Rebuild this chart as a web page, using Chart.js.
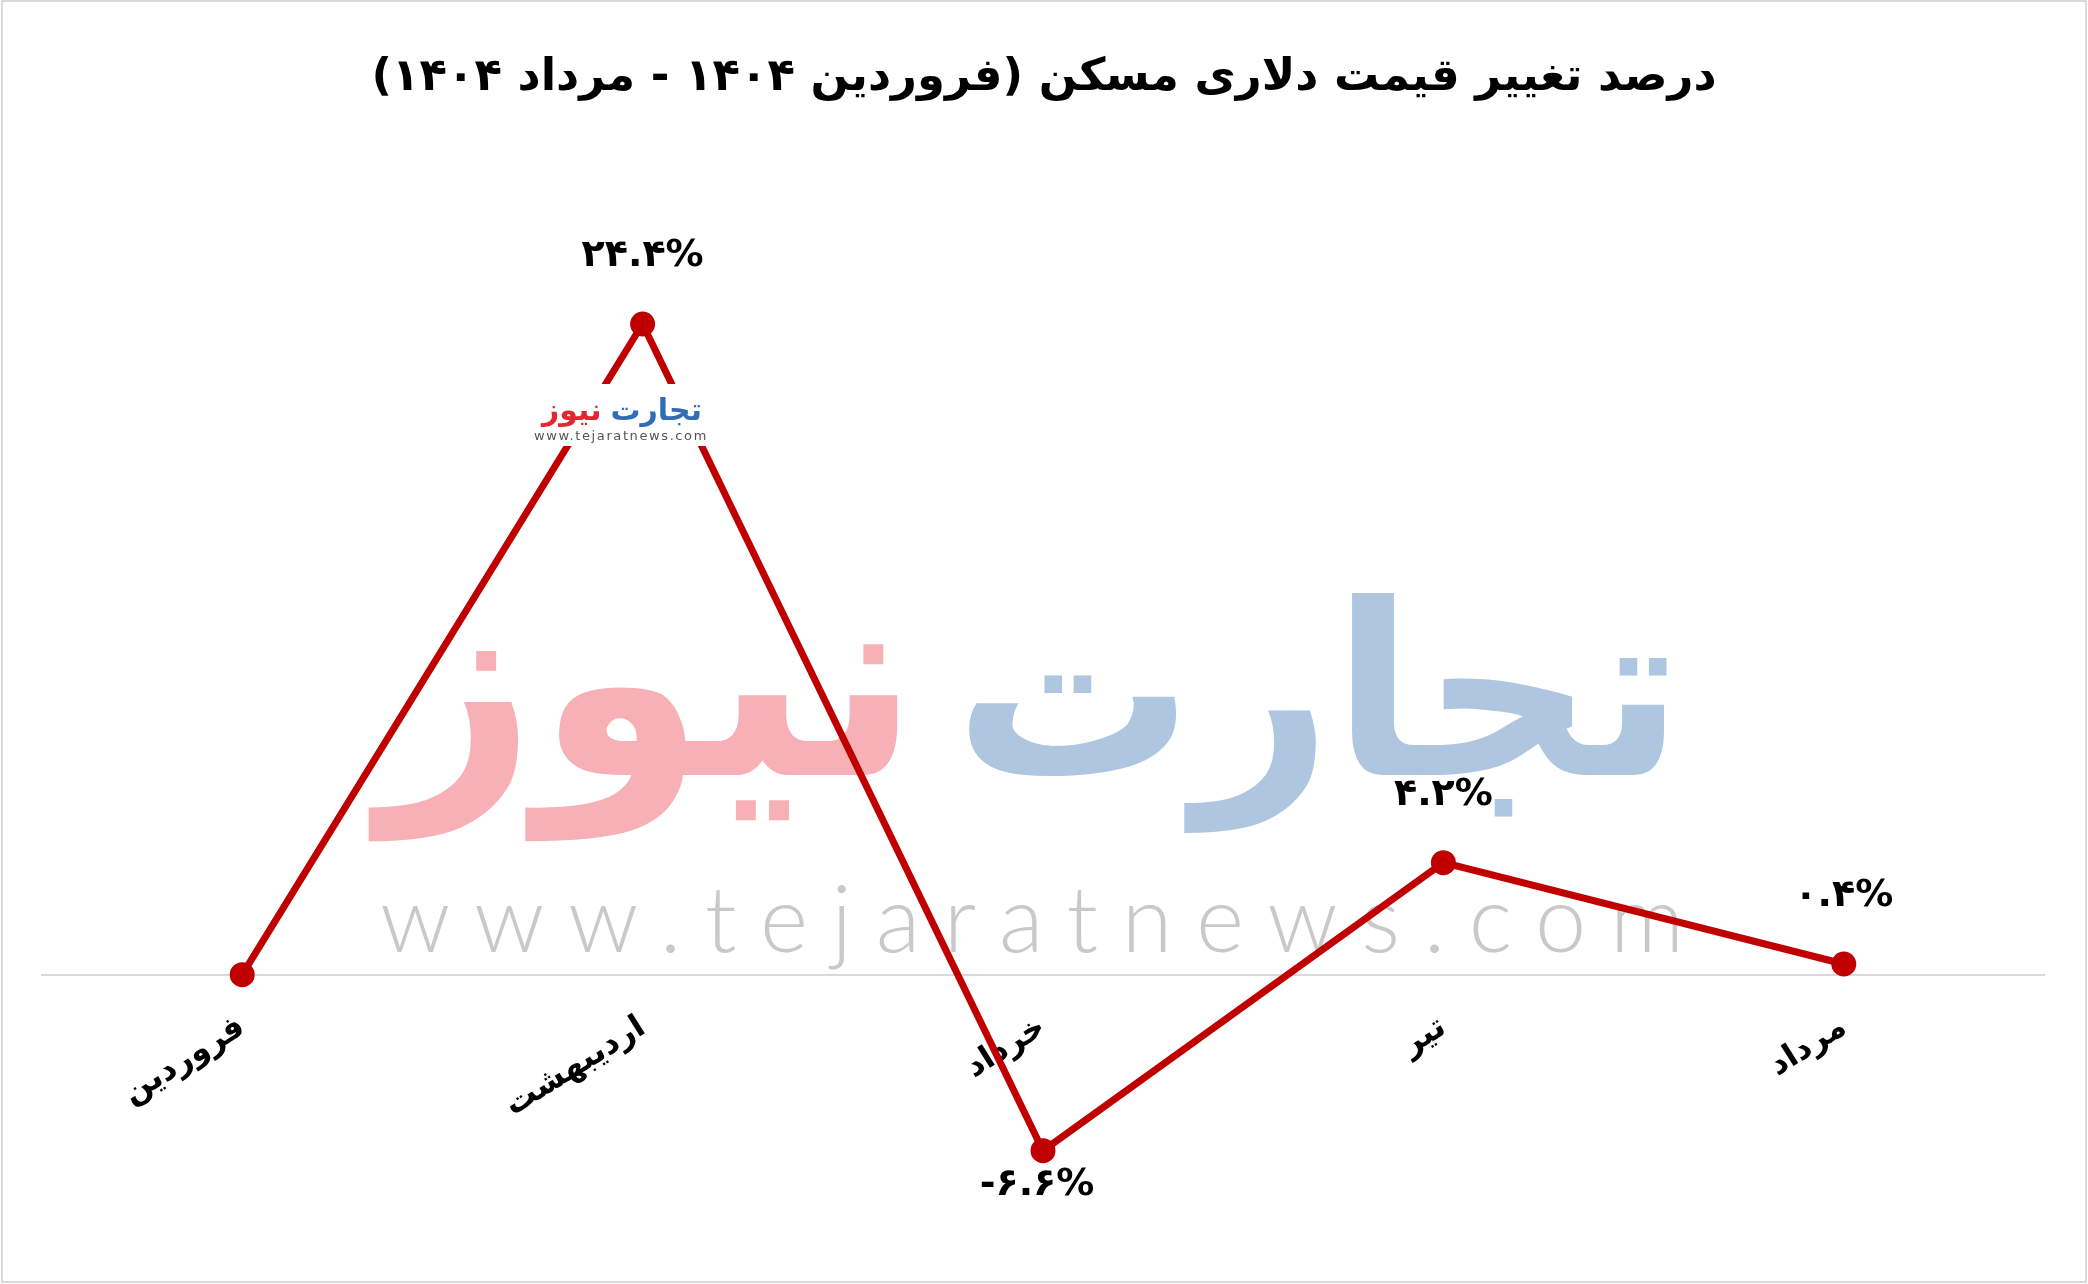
<!DOCTYPE html>
<html lang="fa">
<head>
<meta charset="utf-8">
<title>درصد تغییر قیمت دلاری مسکن</title>
<script src="https://cdn.jsdelivr.net/npm/chart.js@4.4.1/dist/chart.umd.min.js"></script>
<style>
    html, body { margin: 0; background: #fff; }
    canvas { display: block; }
</style>
</head>
<body>
<canvas id="chart" width="2088" height="1284"></canvas>
<script>
// Data
const months = ['فروردین', 'اردیبهشت', 'خرداد', 'تیر', 'مرداد'];
const changes = [0, 24.4, -6.6, 4.2, 0.4];
const chartTitle = 'درصد تغییر قیمت دلاری مسکن (فروردین ۱۴۰۴ - مرداد ۱۴۰۴)';
const yMin = -8;
const yMax = 28;

const faFont = '"DejaVu Sans", sans-serif';
const lineColor = '#c00000';

// Latin digits -> Persian digits
const faDigits = '۰۱۲۳۴۵۶۷۸۹';
const toFa = s => String(s).replace(/\d/g, d => faDigits[d]);

// fit a text into a given width by picking the font size
const fitFont = (ctx, text, weight, family, width) => {
    ctx.font = `${weight} 100px ${family}`;
    const w = ctx.measureText(text).width;
    return 100 * width / w;
};

// Watermark behind the line
const watermark = {
    id: 'watermark',
    beforeDatasetsDraw(chart) {
        const ctx = chart.ctx;
        ctx.save();
        ctx.textBaseline = 'alphabetic';

        // big logo words
        let size = fitFont(ctx, 'تجارت', 'bold', faFont, 730);
        ctx.font = `bold ${size}px ${faFont}`;
        ctx.fillStyle = '#aec6df';
        ctx.textAlign = 'right';
        ctx.fillText('تجارت', 1684, 775);

        size = fitFont(ctx, 'نیوز', 'bold', faFont, 540);
        ctx.font = `bold ${size}px ${faFont}`;
        ctx.fillStyle = '#f6b0b6';
        ctx.textAlign = 'left';
        ctx.fillText('نیوز', 380, 775);

        // site address
        const url = 'www.tejaratnews.com';
        ctx.font = `300 92px Lato, sans-serif`;
        const plain = ctx.measureText(url).width;
        ctx.letterSpacing = ((1304 - plain) / (url.length - 1)) + 'px';
        ctx.fillStyle = '#c9c9c9';
        ctx.textAlign = 'left';
        ctx.fillText(url, 380, 952);
        ctx.restore();
    },
    afterDatasetsDraw(chart) {
        // small logo on top of the line near the peak
        const ctx = chart.ctx;
        ctx.save();
        ctx.fillStyle = '#fff';
        ctx.fillRect(538, 384, 168, 62);
        ctx.textBaseline = 'alphabetic';
        ctx.font = `bold 30px ${faFont}`;
        ctx.textAlign = 'right';
        ctx.fillStyle = '#2f6db5';
        ctx.fillText('تجارت', 702, 420);
        ctx.textAlign = 'left';
        ctx.fillStyle = '#e3262f';
        ctx.fillText('نیوز', 542, 420);
        ctx.font = '13px "DejaVu Sans", sans-serif';
        ctx.letterSpacing = '1.6px';
        ctx.fillStyle = '#555';
        ctx.textAlign = 'center';
        ctx.fillText('www.tejaratnews.com', 621, 440);
        ctx.restore();
    }
};

// Title, point labels and outer frame
const decorations = {
    id: 'decorations',
    afterDraw(chart) {
        const ctx = chart.ctx;
        ctx.save();

        // frame
        ctx.strokeStyle = '#d9d9d9';
        ctx.lineWidth = 2;
        ctx.strokeRect(2, 1, 2084, 1281);

        // title
        ctx.direction = 'rtl';
        ctx.textAlign = 'center';
        ctx.textBaseline = 'middle';
        ctx.fillStyle = '#000';
        ctx.font = `bold 45px ${faFont}`;
        ctx.fillText(chartTitle, 1044, 78);

        // value labels
        ctx.direction = 'ltr';
        ctx.font = `bold 38px ${faFont}`;
        const meta = chart.getDatasetMeta(0);
        meta.data.forEach((pt, i) => {
            const v = changes[i];
            if (v === 0) return;
            const text = toFa(v.toFixed(1)) + '%';
            const x = v < 0 ? pt.x - 6 : pt.x;
            const y = v < 0 ? pt.y + 34 : pt.y - 68;
            ctx.fillText(text, x, y);
        });
        ctx.restore();
    }
};

new Chart(document.getElementById('chart'), {
    type: 'line',
    data: {
        labels: months,
        datasets: [{
            data: changes,
            borderColor: lineColor,
            backgroundColor: lineColor,
            borderWidth: 7,
            pointRadius: 9,
            pointHoverRadius: 9,
            pointBackgroundColor: lineColor,
            pointBorderColor: lineColor,
            tension: 0,
            clip: false
        }]
    },
    options: {
        responsive: false,
        animation: false,
        layout: {
            padding: { left: 42, right: 44, top: 228, bottom: 96 }
        },
        plugins: {
            legend: { display: false },
            tooltip: { enabled: false }
        },
        scales: {
            x: {
                position: { y: 0 },
                offset: true,
                grid: { display: false, drawTicks: false },
                border: { display: true, color: '#d9d9d9', width: 2 },
                ticks: {
                    color: '#000',
                    font: { family: 'DejaVu Sans', weight: 'bold', size: 32 },
                    minRotation: 32,
                    maxRotation: 32,
                    padding: 34,
                    autoSkip: false
                }
            },
            y: {
                display: false,
                min: yMin,
                max: yMax
            }
        }
    },
    plugins: [watermark, decorations]
});
</script>
</body>
</html>
